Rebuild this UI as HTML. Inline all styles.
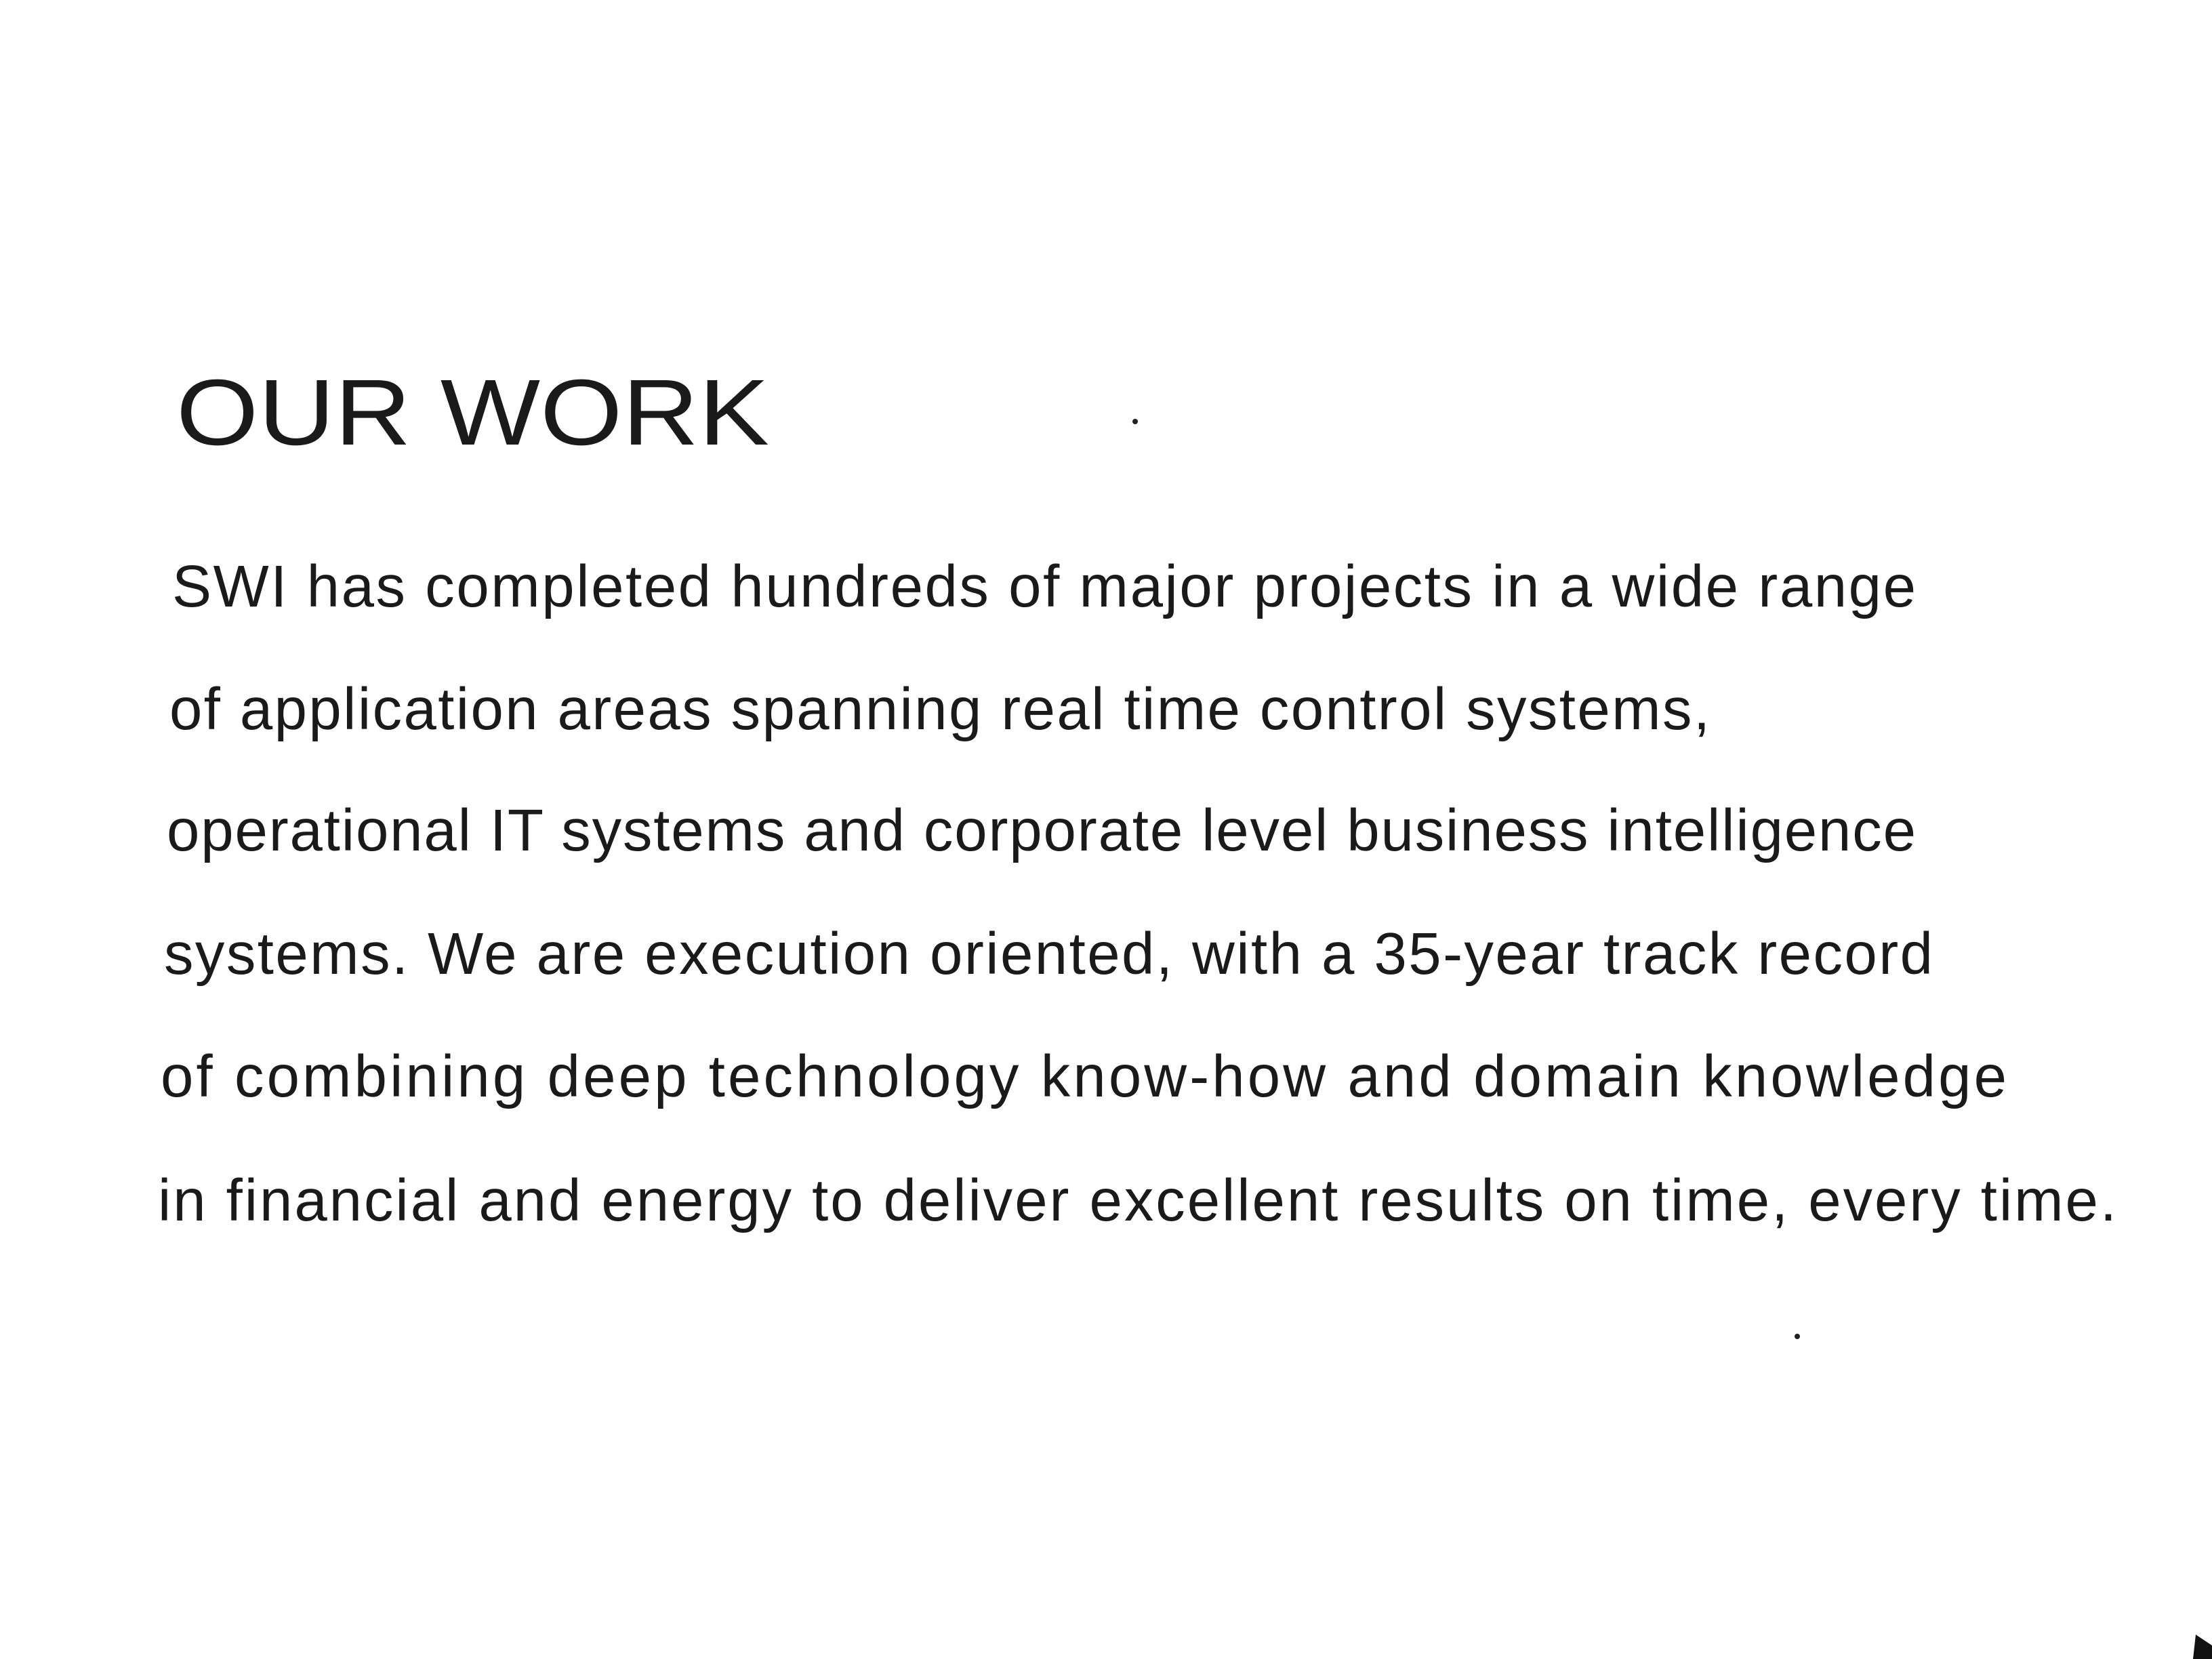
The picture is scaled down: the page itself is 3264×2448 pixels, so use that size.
<!DOCTYPE html>
<html>
<head>
<meta charset="utf-8">
<style>
  html, body { margin:0; padding:0; background:#fff; }
  body { width:3264px; height:2448px; overflow:hidden; }
  svg { display:block; }
  text { font-family:"Liberation Sans", sans-serif; fill:#1a1a1a; }
</style>
</head>
<body>
<svg width="3264" height="2448" viewBox="0 0 3264 2448">
  <rect x="0" y="0" width="3264" height="2448" fill="#fff"/>
  <text x="260" y="656" font-size="138" textLength="875" lengthAdjust="spacingAndGlyphs">OUR WORK</text>
  <g font-size="87">
    <text x="254" y="895" textLength="2573" lengthAdjust="spacing">SWI has completed hundreds of major projects in a wide range</text>
    <text x="250" y="1076" textLength="2273" lengthAdjust="spacing">of application areas spanning real time control systems,</text>
    <text x="246" y="1255" textLength="2581" lengthAdjust="spacing">operational IT systems and corporate level business intelligence</text>
    <text x="242" y="1437" textLength="2610" lengthAdjust="spacing">systems. We are execution oriented, with a 35-year track record</text>
    <text x="237" y="1618" textLength="2724" lengthAdjust="spacing">of combining deep technology know-how and domain knowledge</text>
    <text x="233" y="1801" textLength="2890" lengthAdjust="spacing">in financial and energy to deliver excellent results on time, every time.</text>
  </g>
  <circle cx="1675" cy="622" r="4" fill="#222"/>
  <circle cx="2652" cy="1972" r="4" fill="#222"/>
  <path d="M3240 2412 L3264 2428 L3264 2448 L3236 2448 Z" fill="#111"/>
</svg>
</body>
</html>
